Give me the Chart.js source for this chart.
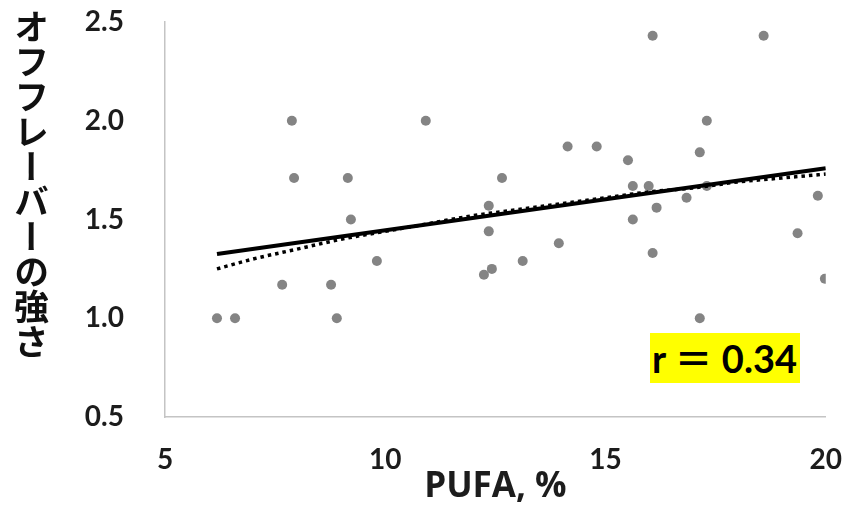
<!DOCTYPE html>
<html>
<head>
<meta charset="utf-8">
<script src="https://cdn.jsdelivr.net/npm/chart.js@4/dist/chart.umd.min.js"></script>
<style>
  html, body { margin: 0; padding: 0; background: #ffffff; }
  #wrap { position: relative; width: 842px; height: 509px; overflow: hidden; }
  #c { position: absolute; left: 0; top: 0; }
  #ytitle {
    position: absolute; left: 14px; top: 9px;
    writing-mode: vertical-rl; text-orientation: upright;
    font-family: "Noto Sans CJK JP", sans-serif; font-weight: 700;
    font-size: 35px; line-height: 35px; color: #111;
  }
  #rbox {
    position: absolute; left: 650px; top: 333px; width: 150px; height: 50px;
    background: #ffff00; color: #000; box-sizing: border-box; padding-left: 2px;
    font-family: Lato, "Noto Sans CJK JP", sans-serif; font-weight: 700;
    font-size: 38px; line-height: 50px; white-space: nowrap;
  }
</style>
</head>
<body>
<div id="wrap">
  <canvas id="c" width="842" height="509"></canvas>
  <div id="ytitle">オフフレーバーの強さ</div>
  <div id="rbox">r ＝ 0.34</div>
</div>
<script>
// PUFA (%) of each sample
const pufa = [6.18, 6.59, 7.66, 7.88, 7.93, 8.77, 8.90, 9.15, 9.22, 9.81,
              10.92, 12.24, 12.35, 12.35, 12.42, 12.65, 13.12, 13.94, 14.14, 14.80,
              15.51, 15.62, 15.62, 15.98, 16.07, 16.07, 16.16, 16.84, 17.14, 17.14,
              17.30, 17.30, 18.59, 19.36, 19.82, 19.98];
// off-flavour intensity of each sample
const offFlavor = [1.00, 1.00, 1.17, 2.00, 1.71, 1.17, 1.00, 1.71, 1.50, 1.29,
                   2.00, 1.22, 1.57, 1.44, 1.25, 1.71, 1.29, 1.38, 1.87, 1.87,
                   1.80, 1.67, 1.50, 1.67, 2.43, 1.33, 1.56, 1.61, 1.84, 1.00,
                   1.67, 2.00, 2.43, 1.43, 1.62, 1.20];
// linear trend line (solid), end points
const linX = [6.18, 20.0];
const linY = [1.325, 1.76];
// second trend line (dotted)
const dotX = [6.18, 7, 8, 9, 10, 11, 12, 13, 14, 15, 16, 17, 18, 19, 20];
const dotY = [1.25, 1.30, 1.35, 1.40, 1.44, 1.48, 1.52, 1.55, 1.58, 1.61, 1.64, 1.66, 1.69, 1.71, 1.73];
// axis ticks
const xTicks = [5, 10, 15, 20];
const yTicks = [0.5, 1.0, 1.5, 2.0, 2.5];
const xTitle = "PUFA, %";

const zip = (xs, ys) => xs.map((x, i) => ({ x: x, y: ys[i] }));

Chart.defaults.font.family = "Lato, 'Noto Sans CJK JP', sans-serif";

new Chart(document.getElementById('c'), {
  type: 'scatter',
  data: {
    datasets: [
      {
        type: 'line', label: 'linear', data: zip(linX, linY),
        borderColor: '#000', borderWidth: 4, pointRadius: 0, fill: false,
        order: 1
      },
      {
        type: 'line', label: 'dotted', data: zip(dotX, dotY),
        borderColor: '#000', borderWidth: 3.5, borderDash: [3.5, 4], pointRadius: 0,
        fill: false, tension: 0.4, cubicInterpolationMode: 'monotone', order: 2
      },
      {
        label: 'samples', data: zip(pufa, offFlavor),
        backgroundColor: '#848484', borderWidth: 0, pointRadius: 5,
        pointHoverRadius: 5, order: 3
      }
    ]
  },
  options: {
    responsive: false,
    animation: false,
    devicePixelRatio: 1,
    layout: { padding: { top: 22, right: 15, left: 0, bottom: 0 } },
    plugins: { legend: { display: false }, tooltip: { enabled: false } },
    scales: {
      x: {
        type: 'linear', min: 5, max: 20,
        afterBuildTicks: s => { s.ticks = xTicks.map(v => ({ value: v })); },
        afterFit: s => { s.height = 92; },
        grid: { display: true, drawOnChartArea: false, drawTicks: true,
                tickLength: 26, tickColor: 'rgba(0,0,0,0)' },
        border: { display: true, color: '#c4c4c4', width: 1.5 },
        ticks: {
          padding: 0, color: '#1c1c1c',
          font: { size: 28, weight: 'bold' },
          maxRotation: 0, autoSkip: false
        },
        title: {
          display: true, text: xTitle, color: '#1c1c1c',
          font: { family: "'Open Sans', sans-serif", size: 35, weight: 'bold' },
          padding: { top: 0, bottom: 1 }
        }
      },
      y: {
        type: 'linear', min: 0.5, max: 2.5,
        afterBuildTicks: s => { s.ticks = yTicks.map(v => ({ value: v })); },
        afterFit: s => { s.width = 165; },
        grid: { display: true, drawOnChartArea: false, drawTicks: true,
                tickLength: 41, tickColor: 'rgba(0,0,0,0)' },
        border: { display: true, color: '#c4c4c4', width: 1.5 },
        ticks: {
          padding: 0, color: '#1c1c1c',
          font: { size: 28, weight: 'bold' },
          callback: v => Number(v).toFixed(1), autoSkip: false
        }
      }
    }
  }
});
</script>
</body>
</html>
